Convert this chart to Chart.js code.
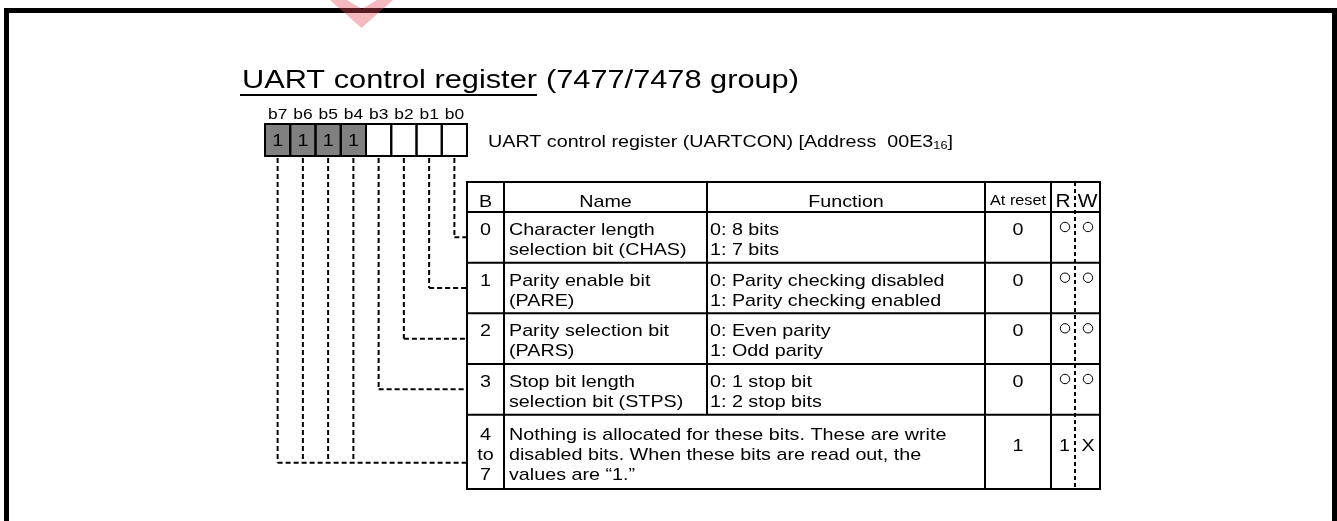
<!DOCTYPE html>
<html>
<head>
<meta charset="utf-8">
<script src="https://cdn.jsdelivr.net/npm/chart.js@4"></script>
<style>
  html, body { margin: 0; padding: 0; background: #fff; }
  canvas { display: block; }
</style>
</head>
<body>
<canvas id="regChart" width="1337" height="521"></canvas>
<script>
// register bits, left to right
const bitLabels = ["b7", "b6", "b5", "b4", "b3", "b2", "b1", "b0"];
const bitValues = [1, 1, 1, 1, null, null, null, null];
// table row each bit is led to
const bitRow = [4, 4, 4, 4, 3, 2, 1, 0];

const headers = ["B", "Name", "Function", "At reset", "R", "W"];
const rowBits = [["0"], ["1"], ["2"], ["3"], ["4", "to", "7"]];
const rowNames = [
    ["Character length", "selection bit (CHAS)"],
    ["Parity enable bit", "(PARE)"],
    ["Parity selection bit", "(PARS)"],
    ["Stop bit length", "selection bit (STPS)"],
    null
];
const rowFunctions = [
    ["0: 8 bits", "1: 7 bits"],
    ["0: Parity checking disabled", "1: Parity checking enabled"],
    ["0: Even parity", "1: Odd parity"],
    ["0: 1 stop bit", "1: 2 stop bits"],
    ["Nothing is allocated for these bits. These are write",
     "disabled bits. When these bits are read out, the",
     "values are \u201c1.\u201d"]
];
const rowReset = ["0", "0", "0", "0", "1"];
const rowRead = ["\u25cb", "\u25cb", "\u25cb", "\u25cb", "1"];
const rowWrite = ["\u25cb", "\u25cb", "\u25cb", "\u25cb", "\u00d7"];

const titleMain = "UART control register";
const titleSub = "(7477/7478 group)";
const regName = "UART control register (UARTCON) [Address  00E3";

// table layout
const COLS = [467, 504, 707, 985, 1051, 1075, 1100];
const ROWS = [182, 212, 262.7, 313.3, 364, 414.7, 489];
const FONT = '"Liberation Sans", Arial, Helvetica, sans-serif';
const SX = 1.16; // the source text is a bit wide

function txt(ctx, s, x, y, size, align) {
    ctx.save();
    ctx.font = size + "px " + FONT;
    ctx.textAlign = align || "left";
    ctx.textBaseline = "alphabetic";
    ctx.fillStyle = "#000";
    ctx.translate(x, y);
    ctx.scale(SX, 1);
    ctx.fillText(s, 0, 0);
    const w = ctx.measureText(s).width * SX;
    ctx.restore();
    return w;
}

function line(ctx, x1, y1, x2, y2, dash) {
    ctx.save();
    ctx.strokeStyle = "#000";
    ctx.lineWidth = 2;
    ctx.setLineDash(dash || []);
    ctx.beginPath();
    ctx.moveTo(x1, y1);
    ctx.lineTo(x2, y2);
    ctx.stroke();
    ctx.restore();
}

const diagramPlugin = {
    id: "diagram",
    beforeDraw(chart) {
        const ctx = chart.ctx;
        ctx.save();
        ctx.fillStyle = "#fff";
        ctx.fillRect(0, 0, chart.width, chart.height);
        // frame
        ctx.fillStyle = "#000";
        ctx.fillRect(4, 8, 1333, 5);
        ctx.fillRect(4, 8, 5, 513);
        ctx.fillRect(1332, 8, 5, 513);
        ctx.restore();
    },
    afterDatasetsDraw(chart) {
        const ctx = chart.ctx;
        const xs = chart.scales.x;
        const area = chart.chartArea;
        const bars = chart.getDatasetMeta(0).data;

        // box outlines and bit values
        bars.forEach((b, i) => {
            const p = b.getProps(["x", "y", "base", "width"], true);
            ctx.save();
            ctx.strokeStyle = "#000";
            ctx.lineWidth = 2;
            ctx.strokeRect(p.x - p.width / 2, p.y, p.width, p.base - p.y);
            ctx.restore();
            if (bitValues[i] !== null) {
                txt(ctx, String(bitValues[i]), p.x, (p.y + p.base) / 2 + 6, 17, "center");
            }
        });
        bitLabels.forEach((l, i) => {
            txt(ctx, l, xs.getPixelForValue(i), area.top - 5, 15, "center");
        });

        // title
        const tw = txt(ctx, titleMain, 242, 88, 26.5);
        line(ctx, 240, 95, 242 + tw, 95);
        ctx.save();
        ctx.strokeStyle = "#fff";
        ctx.restore();
        txt(ctx, titleSub, 242 + tw + 9, 88, 26.5);

        // register name
        let rx = 488;
        rx += txt(ctx, regName, rx, 147, 17);
        rx += txt(ctx, "16", rx, 149, 11);
        txt(ctx, "]", rx, 147, 17);

        // leaders
        const leadY = ROWS.slice(1, 6).map((t, r) => r < 4 ? (t + ROWS[r + 2]) / 2 : t + 48);
        for (let r = 0; r < 5; r++) {
            const idx = bitLabels.map((_, i) => i).filter(i => bitRow[i] === r);
            if (!idx.length) continue;
            const y = leadY[r];
            idx.forEach(i => {
                const x = xs.getPixelForValue(i);
                line(ctx, x, area.bottom + 2, x, y, [5, 3]);
            });
            const x0 = Math.min(...idx.map(i => xs.getPixelForValue(i)));
            line(ctx, x0, y, COLS[0], y, [5, 3]);
        }

        // table grid
        ctx.save();
        ctx.strokeStyle = "#000";
        ctx.lineWidth = 2;
        ctx.strokeRect(COLS[0], ROWS[0], COLS[6] - COLS[0], ROWS[6] - ROWS[0]);
        ctx.restore();
        for (let k = 1; k < 6; k++) line(ctx, COLS[0], ROWS[k], COLS[6], ROWS[k]);
        line(ctx, COLS[1], ROWS[0], COLS[1], ROWS[6]);
        line(ctx, COLS[2], ROWS[0], COLS[2], ROWS[5]);
        line(ctx, COLS[3], ROWS[0], COLS[3], ROWS[6]);
        line(ctx, COLS[4], ROWS[0], COLS[4], ROWS[6]);
        line(ctx, COLS[5], ROWS[0], COLS[5], ROWS[6], [4, 3]);

        // header
        const hy = ROWS[0] + 25;
        const mid = c => (COLS[c] + COLS[c + 1]) / 2;
        txt(ctx, headers[0], mid(0), hy, 17, "center");
        txt(ctx, headers[1], mid(1), hy, 17, "center");
        txt(ctx, headers[2], mid(2), hy, 17, "center");
        txt(ctx, headers[3], mid(3), hy - 2, 14, "center");
        txt(ctx, headers[4], mid(4), hy, 18, "center");
        txt(ctx, headers[5], mid(5), hy, 18, "center");

        // rows
        rowFunctions.forEach((fn, r) => {
            const top = ROWS[r + 1];
            const last = r === 4;
            const b0 = top + (last ? 25 : 23);
            rowBits[r].forEach((s, k) => txt(ctx, s, mid(0), b0 + k * 20, 17, "center"));
            if (rowNames[r]) {
                rowNames[r].forEach((s, k) => txt(ctx, s, COLS[1] + 5, b0 + k * 20, 17));
                fn.forEach((s, k) => txt(ctx, s, COLS[2] + 3, b0 + k * 20, 17));
            } else {
                fn.forEach((s, k) => txt(ctx, s, COLS[1] + 5, b0 + k * 20, 17));
            }
            const vy = last ? top + 36 : top + 23;
            txt(ctx, rowReset[r], mid(3), vy, 17, "center");
            [[rowRead[r], COLS[4] + 14, "right"], [rowWrite[r], COLS[5] + 13, "center"]].forEach(([s, x, al]) => {
                if (s === "\u25cb") {
                    ctx.save();
                    ctx.strokeStyle = "#000";
                    ctx.lineWidth = 1;
                    ctx.beginPath();
                    ctx.arc(al === "right" ? x : x, top + 15, 4.7, 0, Math.PI * 2);
                    ctx.stroke();
                    ctx.restore();
                } else if (s === "\u00d7") {
                    txt(ctx, "X", x, vy, 17, "center");
                } else {
                    txt(ctx, s, x + 5, vy, 17, "right");
                }
            });
        });
    },
    afterDraw(chart) {
        // pink mark at the top edge
        const ctx = chart.ctx;
        ctx.save();
        ctx.fillStyle = "rgba(232, 70, 90, 0.38)";
        ctx.beginPath();
        ctx.moveTo(330, 0);
        ctx.lineTo(393, 0);
        ctx.lineTo(361.5, 28);
        ctx.closePath();
        ctx.moveTo(377, 0);
        ctx.lineTo(347, 0);
        ctx.lineTo(362, 9);
        ctx.closePath();
        ctx.fill("evenodd");
        ctx.restore();
    }
};

new Chart(document.getElementById("regChart").getContext("2d"), {
    type: "bar",
    data: {
        labels: bitLabels,
        datasets: [{
            data: bitLabels.map(() => [0, 1]),
            backgroundColor: bitValues.map(v => v === 1 ? "#808080" : "#ffffff"),
            borderWidth: 0,
            barPercentage: 1,
            categoryPercentage: 1
        }]
    },
    options: {
        responsive: false,
        animation: false,
        devicePixelRatio: 1,
        layout: { padding: { left: 265, right: 870, top: 124, bottom: 365 } },
        plugins: { legend: { display: false }, tooltip: { enabled: false } },
        scales: {
            x: { display: false },
            y: { display: false, min: 0, max: 1 }
        }
    },
    plugins: [diagramPlugin]
});
</script>
</body>
</html>
